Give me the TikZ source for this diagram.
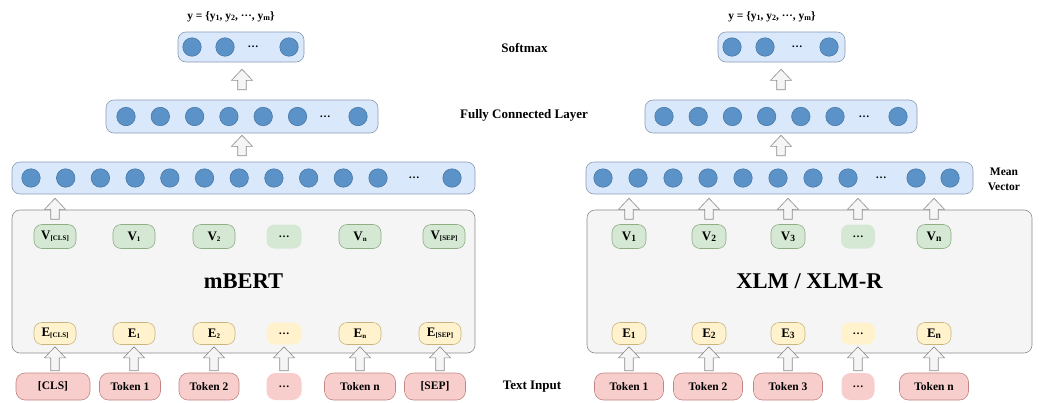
\documentclass[tikz,border=0pt]{standalone}
\usepackage{fontspec}
\setmainfont{Liberation Serif}
\usetikzlibrary{calc}

\definecolor{unitfill}{HTML}{5B93C9}
\definecolor{unitline}{HTML}{41719C}
\definecolor{layerfill}{HTML}{DAE8FC}
\definecolor{layerline}{HTML}{8C9BB0}
\definecolor{encfill}{HTML}{F5F5F5}
\definecolor{encline}{HTML}{8C8C8C}
\definecolor{vfill}{HTML}{D5E8D4}
\definecolor{vline}{HTML}{8FAE84}
\definecolor{efill}{HTML}{FFF2CC}
\definecolor{eline}{HTML}{C8B680}
\definecolor{tokfill}{HTML}{F8CECC}
\definecolor{tokline}{HTML}{C08582}

% small lowered index, as in V_1 or E_[CLS]
\newcommand{\ix}[2][7]{\raisebox{-1pt}{\fontsize{#1}{#1}\selectfont #2}}
% heavy ellipsis used in place of skipped units
\newcommand{\ellip}{{\bfseries\fontsize{11}{11}\selectfont …}}

% hollow block arrow pointing up: x taken from #1, foot at the height of #2, tip at the height of #3
\newcommand{\blockup}[3]{%
  \draw[blockarrow] let \p0=(#1), \p1=(#2), \p2=(#3) in
    (\x0-4.25pt,\y1) -- (\x0-4.25pt,\y2-11pt) -- (\x0-10.5pt,\y2-11pt) -- (\x0,\y2)
    -- (\x0+10.5pt,\y2-11pt) -- (\x0+4.25pt,\y2-11pt) -- (\x0+4.25pt,\y1) -- cycle;}

\tikzset{
  layer/.style={draw=layerline, fill=layerfill, rounded corners=8pt, line width=0.6pt},
  unit/.style={circle, draw=unitline, fill=unitfill, minimum size=18.5pt, inner sep=0pt, line width=0.5pt},
  encoder/.style={draw=encline, fill=encfill, rounded corners=8pt, line width=0.6pt,
    font=\fontsize{22.5}{24}\selectfont\bfseries},
  vbox/.style={draw=vline, fill=vfill, rounded corners=8pt, minimum width=42pt, minimum height=24pt,
    inner sep=0pt, line width=0.6pt, font=\fontsize{13}{13}\selectfont\bfseries},
  ebox/.style={vbox, draw=eline, fill=efill, minimum height=22pt},
  tokbox/.style={draw=tokline, fill=tokfill, rounded corners=9pt, minimum height=27pt, inner sep=0pt,
    line width=0.6pt, font=\fontsize{11.5}{12}\selectfont\bfseries},
  blockarrow/.style={draw=encline, fill=encfill, line width=0.6pt},
  lbl/.style={font=\fontsize{13}{15}\selectfont\bfseries, align=center},
  dotsbox/.style={inner sep=0pt},
}

\begin{document}
\begin{tikzpicture}[x=1pt,y=-1pt]
\useasboundingbox (0,0) rectangle (1040,402);

%%% left branch: mBERT
\node[encoder, minimum width=463pt, minimum height=143pt] (bert) at (243.5,281.5) {mBERT};

\foreach \cx/\t/\k in {55/{V\ix{[CLS]}}/cls, 134/{V\ix{1}}/1, 214/{V\ix{2}}/2, 360/{V\ix{n}}/n, 444/{V\ix{[SEP]}}/sep}
  \node[vbox] (vL\k) at (\cx,236.5) {\t};
\node[vbox, draw=none, minimum width=35pt] (vLdots) at (284,236.5) {\ellip};

\foreach \cx/\t/\k in {55/{E\ix{[CLS]}}/cls, 134/{E\ix{1}}/1, 214/{E\ix{2}}/2, 360/{E\ix{n}}/n, 440/{E\ix{[SEP]}}/sep}
  \node[ebox] (eL\k) at (\cx,333.5) {\t};
\node[ebox, draw=none, minimum width=35pt] (eLdots) at (284,333.5) {\ellip};

\foreach \cx/\w/\t/\k in {53/74/{[CLS]}/cls, 130/61/{Token 1}/1, 209/60/{Token 2}/2, 360/71/{Token n}/n, 435/61/{[SEP]}/sep}
  \node[tokbox, minimum width=\w pt] (tokL\k) at (\cx,386.5) {\t};
\node[tokbox, draw=none, minimum width=35pt] (tokLdots) at (284,386.5) {\ellip};

\foreach \k in {cls,1,2,dots,n,sep}
  \blockup{eL\k.south}{[yshift=2pt]tokL\k.north}{[yshift=-2pt]eL\k.south};

% output layers
\node[layer, minimum width=463pt, minimum height=32pt] (vecL) at (243.5,178) {};
\foreach \cx [count=\i] in {31,65.7,100.4,135.1,169.8,204.5,239.2,273.9,308.6,343.3,378,452}
  \node[unit] (vecL-\i) at (\cx,178) {};
\node[dotsbox] (vecL-dots) at (414,178) {\ellip};

\node[layer, minimum width=272pt, minimum height=33pt] (fcL) at (242,116.5) {};
\foreach \cx [count=\i] in {126,160.3,194.6,228.9,263.2,297.5,358}
  \node[unit] (fcL-\i) at (\cx,116.5) {};
\node[dotsbox] (fcL-dots) at (325,116.5) {\ellip};

\node[layer, minimum width=126pt, minimum height=30pt] (softL) at (241,47) {};
\foreach \cx [count=\i] in {192,225,289}
  \node[unit] (softL-\i) at (\cx,47) {};
\node[dotsbox] (softL-dots) at (253,47) {\ellip};

\blockup{vLcls.north}{[yshift=5pt]vLcls.north}{[yshift=-4pt]vecL.south}
\blockup{fcL.south}{[yshift=6pt]vecL.north}{[yshift=-2pt]fcL.south}
\blockup{fcL.north}{[yshift=10pt]fcL.north}{[yshift=-7pt]softL.south}

\node[font=\fontsize{11.5}{12}\selectfont\bfseries] (yL) at (231,16.5)
  {y = \{y\ix[8]{1}, y\ix[8]{2}, \raisebox{3pt}{\ellip}, y\ix[8]{m}\}};

%%% right branch: XLM / XLM-R
\node[encoder, minimum width=445pt, minimum height=143pt] (xlm) at (809.5,281.5) {XLM / XLM-R};

\foreach \cx/\t/\k in {629/{V\ix[9.5]{1}}/1, 709/{V\ix[9.5]{2}}/2, 788/{V\ix[9.5]{3}}/3, 934/{V\ix[9.5]{n}}/n}
  \node[vbox, minimum width=34pt] (vR\k) at (\cx,236.5) {\t};
\node[vbox, draw=none, minimum width=34pt] (vRdots) at (858,236.5) {\ellip};

\foreach \cx/\t/\k in {629/{E\ix[9.5]{1}}/1, 709/{E\ix[9.5]{2}}/2, 788/{E\ix[9.5]{3}}/3, 934/{E\ix[9.5]{n}}/n}
  \node[ebox, minimum width=34pt] (eR\k) at (\cx,333.5) {\t};
\node[ebox, draw=none, minimum width=34pt] (eRdots) at (858,333.5) {\ellip};

\foreach \cx/\t/\k in {629/{Token 1}/1, 708/{Token 2}/2, 788/{Token 3}/3, 934/{Token n}/n}
  \node[tokbox, minimum width=69pt] (tokR\k) at (\cx,386.5) {\t};
\node[tokbox, draw=none, minimum width=33pt] (tokRdots) at (858,386.5) {\ellip};

\foreach \k in {1,2,3,dots,n}
  \blockup{eR\k.south}{[yshift=2pt]tokR\k.north}{[yshift=-2pt]eR\k.south};

\node[layer, minimum width=387pt, minimum height=32pt] (vecR) at (779.5,178) {};
\foreach \cx [count=\i] in {603,638,673,708,743,778,813,848,916,950}
  \node[unit] (vecR-\i) at (\cx,178) {};
\node[dotsbox] (vecR-dots) at (881,178) {\ellip};

\node[layer, minimum width=272pt, minimum height=33pt] (fcR) at (781,116.5) {};
\foreach \cx [count=\i] in {664,698.2,732.4,766.6,800.8,835,898}
  \node[unit] (fcR-\i) at (\cx,116.5) {};
\node[dotsbox] (fcR-dots) at (864,116.5) {\ellip};

\node[layer, minimum width=127pt, minimum height=30pt] (softR) at (781.5,47) {};
\foreach \cx [count=\i] in {732,765,829}
  \node[unit] (softR-\i) at (\cx,47) {};
\node[dotsbox] (softR-dots) at (797,47) {\ellip};

\foreach \k in {1,2,3,dots,n}
  \blockup{vR\k.north}{[yshift=5pt]vR\k.north}{[yshift=-4pt]vecR.south};
\blockup{fcR.south}{[yshift=6pt]vecR.north}{[yshift=-2pt]fcR.south}
\blockup{fcR.north}{[yshift=10pt]fcR.north}{[yshift=-7pt]softR.south}

\node[font=\fontsize{11.5}{12}\selectfont\bfseries] (yR) at (772,16.5)
  {y = \{y\ix[8]{1}, y\ix[8]{2}, \raisebox{3pt}{\ellip}, y\ix[8]{m}\}};

%%% row labels
\node[lbl] (softlbl) at (524.5,48) {Softmax};
\node[lbl] (fclbl) at (524,115) {Fully Connected Layer};
\node[lbl, font=\fontsize{11.5}{14.5}\selectfont\bfseries] (meanlbl) at (1004,179.5) {Mean\\Vector};
\node[lbl] (inlbl) at (532,387) {Text Input};
\end{tikzpicture}
\end{document}
